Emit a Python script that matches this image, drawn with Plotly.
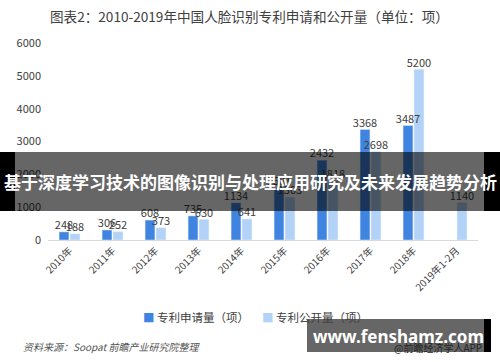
import plotly.graph_objects as go

categories = ["2010年", "2011年", "2012年", "2013年", "2014年", "2015年", "2016年", "2017年", "2018年", "2019年1-2月"]
applications = [248, 306, 608, 735, 1134, 1581, 2432, 3368, 3487, None]
publications = [188, 252, 373, 630, 641, 1303, 1818, 2698, 5200, 1140]
y_ticks = [0, 1000, 2000, 3000, 4000, 5000, 6000]

title = "图表2：2010-2019年中国人脸识别专利申请和公开量（单位：项）"
series_names = ["专利申请量（项）", "专利公开量（项）"]
banner = "基于深度学习技术的图像识别与处理应用研究及未来发展趋势分析"
source = "资料来源：Soopat 前瞻产业研究院整理"
site = "www.fenshamz.com"
app_tag = "@前瞻经济学人APP"

c_app = "#3F84E0"
c_pub = "#B2D2F7"
font_cjk = "Noto Sans CJK SC, Noto Sans, sans-serif"
txt = "#404040"

def lab(v):
    return [("" if x is None else str(x)) for x in v]

fig = go.Figure()
for vals, nm, c, g in [(applications, series_names[0], c_app, "a"), (publications, series_names[1], c_pub, "b")]:
    fig.add_trace(go.Bar(x=categories, y=vals, name=nm, marker_color=c, offsetgroup=g,
                         showlegend=False, hoverinfo="x+y"))
for vals, g in [(applications, "a"), (publications, "b")]:
    fig.add_trace(go.Scatter(x=categories, y=vals, mode="text", text=lab(vals),
                             textposition="top center", offsetgroup=g,
                             textfont=dict(size=11, color=txt, family=font_cjk),
                             cliponaxis=False, showlegend=False, hoverinfo="skip"))

W, H = 500, 362
L, R, T, B = 48, 22, 43, 122
pw, ph = W - L - R, H - T - B

def px(x):
    return (x - L) / pw

def py(y):
    return (H - B - y) / ph

fig.update_layout(
    width=W, height=H,
    margin=dict(l=L, r=R, t=T, b=B),
    paper_bgcolor="white", plot_bgcolor="white",
    barmode="group", bargap=0.49, bargroupgap=0.1,
    scattermode="group", scattergap=0.49,
    font=dict(family=font_cjk, color=txt),
    showlegend=False,
    xaxis=dict(showline=True, linecolor="#D9D9D9", linewidth=1, ticks="", tickangle=-45,
               tickfont=dict(size=10, color=txt, family=font_cjk), showgrid=False),
    yaxis=dict(range=[0, 6000], tickvals=y_ticks, showgrid=False, zeroline=False,
               showline=False, ticklabelstandoff=6,
               tickfont=dict(size=11, color=txt, family=font_cjk)),
)

legend_html = [
    '<span style="color:%s">■</span> %s' % (c_app, series_names[0]),
    '<span style="color:%s">■</span> %s' % (c_pub, series_names[1]),
]

annotations = [
    dict(text=title, x=px(249), y=py(16), xref="paper", yref="paper", showarrow=False,
         font=dict(size=13.6, color="#404040", family=font_cjk), xanchor="center", yanchor="middle"),
    dict(text=legend_html[0], x=px(141), y=py(317), xref="paper", yref="paper", showarrow=False,
         font=dict(size=11.5, color=txt, family=font_cjk), xanchor="left", yanchor="middle"),
    dict(text=legend_html[1], x=px(260), y=py(317), xref="paper", yref="paper", showarrow=False,
         font=dict(size=11.5, color=txt, family=font_cjk), xanchor="left", yanchor="middle"),
    dict(text="<i>" + source + "</i>", x=px(21), y=py(346), xref="paper", yref="paper", showarrow=False,
         font=dict(size=10, color="#555555", family=font_cjk), xanchor="left", yanchor="middle"),
    dict(text=app_tag, x=px(484), y=py(347), xref="paper", yref="paper", showarrow=False,
         font=dict(size=10, color="#222222", family=font_cjk), xanchor="right", yanchor="middle"),
    dict(text=banner, x=px(250), y=py(181), xref="paper", yref="paper", showarrow=False,
         font=dict(size=17, color="white", family=font_cjk, weight="bold"),
         xanchor="center", yanchor="middle"),
    dict(text=site, x=px(398), y=py(336), xref="paper", yref="paper", showarrow=False,
         font=dict(size=17, color="white", family="Noto Sans, DejaVu Sans, sans-serif", weight="bold"),
         xanchor="center", yanchor="middle"),
]
fig.update_layout(annotations=annotations)

shapes = [
    dict(type="rect", xref="paper", yref="paper", x0=px(15), x1=px(484), y0=py(211), y1=py(152),
         fillcolor="rgba(0,0,0,0.6)", line=dict(width=0), layer="above"),
    dict(type="rect", xref="paper", yref="paper", x0=px(0), x1=px(15), y0=py(211), y1=py(152),
         fillcolor="black", line=dict(width=0), layer="above"),
    dict(type="rect", xref="paper", yref="paper", x0=px(484), x1=px(500), y0=py(211), y1=py(152),
         fillcolor="black", line=dict(width=0), layer="above"),
    dict(type="rect", xref="paper", yref="paper", x0=px(307), x1=px(484), y0=py(352), y1=py(319),
         fillcolor="rgba(0,0,0,0.6)", line=dict(width=0), layer="above"),
    dict(type="rect", xref="paper", yref="paper", x0=px(484), x1=px(491), y0=py(352), y1=py(319),
         fillcolor="black", line=dict(width=0), layer="above"),
]
fig.update_layout(shapes=shapes)

fig.write_html("out.html", config={"displayModeBar": False, "displaylogo": False},
               post_script="document.body.style.margin='0';document.body.style.overflow='hidden';")
